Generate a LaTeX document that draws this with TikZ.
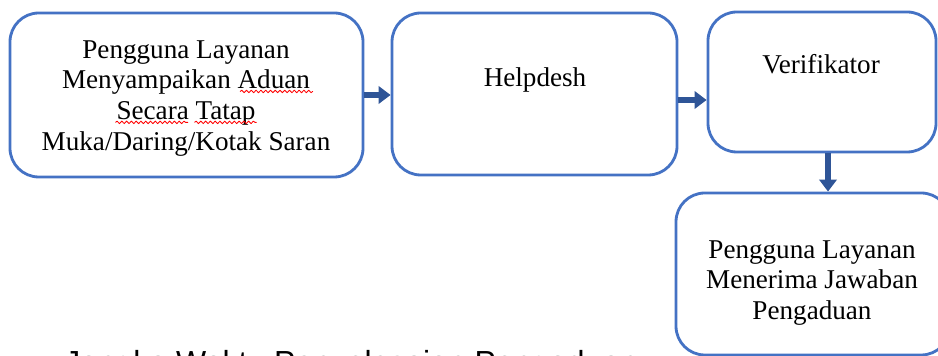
\documentclass[tikz,border=0pt]{standalone}
\usepackage{fontspec}
\setmainfont{Liberation Serif}
\newfontfamily\arialfont{Liberation Sans}
\usetikzlibrary{arrows.meta,calc,decorations.pathmorphing}
\definecolor{garisbiru}{RGB}{68,114,196}
\definecolor{panahbiru}{RGB}{47,85,151}
% red spell-check squiggle: start point relative to #1, length #3
\newcommand{\salahEja}[3]{
    \draw[red,line width=0.6pt,decorate,decoration={snake,amplitude=0.9pt,segment length=3.4pt}]
        ($(#1)+(#2)$) -- ++(#3,0);
}

\begin{document}
\begin{tikzpicture}[line cap=round,line join=round,
    kotak/.style={draw=garisbiru,line width=2pt,rounded corners=0.72cm,fill=white},
    teks/.style={inner sep=0pt,align=center,font=\fontsize{19.3}{22}\selectfont},
    panah/.style={draw=panahbiru,line width=4.2pt,line cap=butt,-{Triangle[length=0.3cm,width=0.43cm]}}]

        % --- Frame ---
        \path[use as bounding box] (0,0) rectangle (23.45,8.9);
        \clip (0,0) rectangle (23.45,8.9);

        % --- Boxes ---
        \node[kotak,minimum width=8.825cm,minimum height=4.1cm] (pengguna) at (4.6625,6.525) {};
        \node[kotak,minimum width=7.125cm,minimum height=4.05cm] (helpdesk) at (13.3625,6.55) {};
        \node[kotak,minimum width=5.7cm,minimum height=3.5cm] (verifikator) at (20.55,6.85) {};
        \node[kotak,minimum width=6.85cm,minimum height=4.05cm] (jawaban) at (20.325,2.05) {};

        % --- Texts ---
        \node[teks,anchor=north] (pengguna_teks) at (4.65,7.9)
            {Pengguna Layanan\\ Menyampaikan Aduan\\ Secara Tatap\\ Muka/Daring/Kotak Saran};
        \node[teks,anchor=base] (helpdesk_teks) at (13.375,6.725) {Helpdesh};
        \node[teks,anchor=base] (verifikator_teks) at (20.525,7.05) {Verifikator};
        \node[teks,anchor=north] (jawaban_teks) at (20.3,2.9)
            {Pengguna Layanan\\ Menerima Jawaban\\ Pengaduan};

        % squiggles under Aduan, Secara, Tatap
        \salahEja{pengguna_teks.north}{38.6pt,-36.6pt}{51.5pt}
        \salahEja{pengguna_teks.north}{-50.1pt,-58.6pt}{51.4pt}
        \salahEja{pengguna_teks.north}{6.1pt,-58.6pt}{44pt}

        % caption below, cut off by the frame
        \node[anchor=base west,inner sep=0pt,font=\arialfont\fontsize{22.7}{26}\selectfont] (jangka) at (1.6,-0.45)
            {Jangka Waktu Penyelesaian Pengaduan};

        % --- Arrows ---
        \draw[panah] (pengguna.east) -- (pengguna.east -| helpdesk.west);

        \coordinate (a2) at ([yshift=-0.15cm]helpdesk.east);
        \draw[panah] (a2) -- (a2 -| verifikator.west);

        \coordinate (a3) at ([xshift=0.15cm]verifikator.south);
        \draw[panah] (a3) -- (a3 |- jawaban.north);

\end{tikzpicture}
\end{document}
